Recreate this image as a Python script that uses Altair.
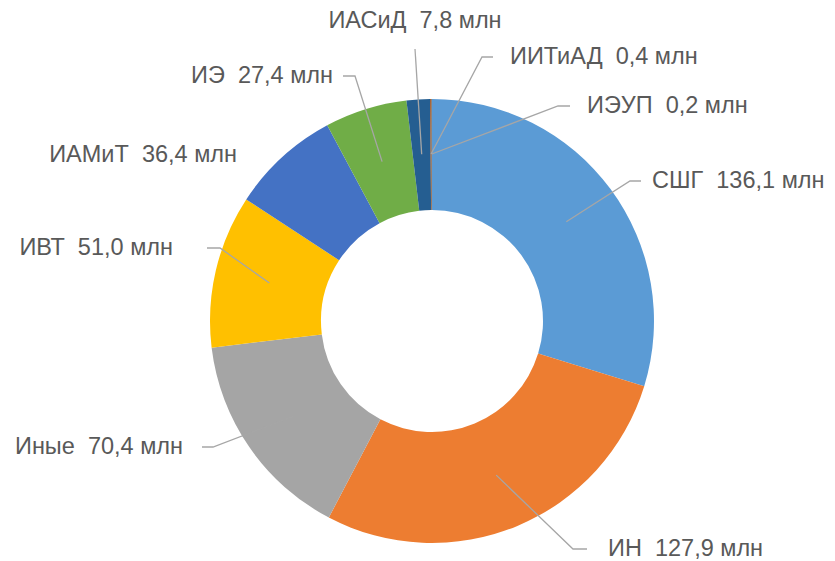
import math
import altair as alt
import pandas as pd

# ---- data ----
names = ["СШГ", "ИН", "Иные", "ИВТ", "ИАМиТ", "ИЭ", "ИАСиД", "ИИТиАД", "ИЭУП"]
values = [136.1, 127.9, 70.4, 51.0, 36.4, 27.4, 7.8, 0.4, 0.2]
colors = ["#5B9BD5", "#ED7D31", "#A5A5A5", "#FFC000", "#4472C4",
          "#70AD47", "#255E91", "#9E480E", "#636363"]
unit = "млн"

# ---- layout ----
W, H = 819, 553
CX, CY = 424, 313          # donut centre (chart px)
R_OUT, R_IN = 222, 111
R_LEAD = 167               # leader lines start in the middle of the ring
FONT = "Liberation Sans"
FS = 23.5
TXT = "#595959"
LEAD = "#A6A6A6"

# label placement (offsets from the donut centre), like Excel's label boxes
label_layout = {
    "СШГ":    dict(ex=198,  ey=-140, leg=11,  tx=220,  ty=-140, align="left"),
    "ИН":     dict(ex=141,  ey=228,  leg=14,  tx=176,  ty=228,  align="left"),
    "Иные":   dict(ex=-219, ey=126,  leg=-11, tx=-249, ty=126,  align="right"),
    "ИВТ":    dict(ex=-212, ey=-73,  leg=-13, tx=-259, ty=-73,  align="right"),
    "ИАМиТ":  dict(ex=None, ey=None, leg=0,   tx=-195, ty=-166, align="right"),
    "ИЭ":     dict(ex=-77,  ey=-245, leg=-12, tx=-99,  ty=-245, align="right"),
    "ИАСиД":  dict(ex=-17,  ey=-272, leg=0,   tx=-17,  ty=-300, align="center"),
    "ИИТиАД": dict(ex=50,   ey=-264, leg=11,  tx=78,   ty=-264, align="left"),
    "ИЭУП":   dict(ex=126,  ey=-215, leg=12,  tx=155,  ty=-215, align="left"),
}

total = sum(values)
arc_df = pd.DataFrame({"name": names, "value": values, "idx": list(range(len(names)))})

line_rows, text_rows = [], []
cum = 0.0
for n, v in zip(names, values):
    mid = (cum + v / 2) / total * 2 * math.pi
    cum += v
    L = label_layout[n]
    label = f"{n}\u00a0\u00a0{v:.1f}".replace(".", ",") + f" {unit}"
    text_rows.append(dict(name=n, label=label, x=CX + L["tx"], y=CY + L["ty"], align=L["align"]))
    if L["ex"] is None:
        continue
    sx = CX + R_LEAD * math.sin(mid)
    sy = CY - R_LEAD * math.cos(mid)
    ex, ey = CX + L["ex"], CY + L["ey"]
    pts = [(sx, sy), (ex, ey)]
    if L["leg"]:
        pts.append((ex + L["leg"], ey))
    for i, (px, py) in enumerate(pts):
        line_rows.append(dict(name=n, seq=i, x=px, y=py))

line_df = pd.DataFrame(line_rows)
text_df = pd.DataFrame(text_rows)

arc = alt.Chart(arc_df).mark_arc(radius=R_OUT, innerRadius=R_IN).encode(
    theta=alt.Theta("value:Q", stack=True, scale=alt.Scale(range=[0, 2 * math.pi])),
    color=alt.Color("name:N", scale=alt.Scale(domain=names, range=colors), legend=None),
    order=alt.Order("idx:Q"),
    x=alt.value(CX),
    y=alt.value(CY),
)

lines = alt.Chart(line_df).mark_line(color=LEAD, strokeWidth=1.3).encode(
    x=alt.X("x:Q", scale=None, axis=None),
    y=alt.Y("y:Q", scale=None, axis=None),
    detail="name:N",
    order="seq:Q",
)

def text_layer(al):
    return alt.Chart(text_df[text_df["align"] == al]).mark_text(
        font=FONT, fontSize=FS, color=TXT, align=al, baseline="middle"
    ).encode(
        x=alt.X("x:Q", scale=None, axis=None),
        y=alt.Y("y:Q", scale=None, axis=None),
        text="label:N",
    )

chart = alt.layer(
    arc, lines, text_layer("left"), text_layer("right"), text_layer("center")
).properties(
    width=W, height=H, padding=0, autosize="none"
).configure_view(stroke=None)

chart.save("out.html", embed_options={"renderer": "svg", "actions": False})
